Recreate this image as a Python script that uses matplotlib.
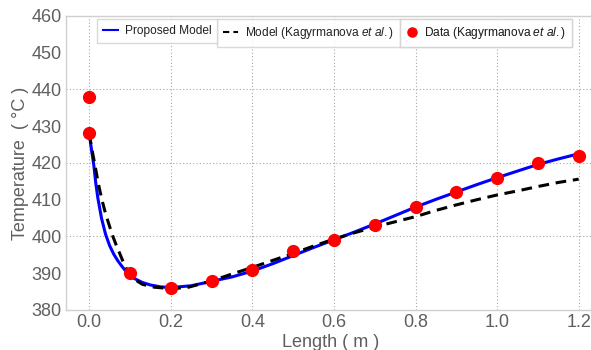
import matplotlib
matplotlib.use("Agg")
import matplotlib.pyplot as plt
from matplotlib.lines import Line2D

plt.rcParams["font.family"] = ["Liberation Sans", "DejaVu Sans"]
plt.rcParams["mathtext.fontset"] = "custom"
plt.rcParams["mathtext.it"] = "Liberation Sans:italic"
plt.rcParams["mathtext.rm"] = "Liberation Sans"

# ── data ────────────────────────────────────────────────────────────────────
prop_x = [0.0, 0.005, 0.011, 0.016, 0.021, 0.03, 0.04, 0.05, 0.06, 0.07, 0.08,
          0.093, 0.11, 0.13, 0.15, 0.175, 0.2, 0.25, 0.3, 0.35, 0.4, 0.45, 0.5,
          0.55, 0.6, 0.65, 0.7, 0.75, 0.8, 0.85, 0.9, 0.95, 1.0, 1.05, 1.1,
          1.15, 1.2]
prop_y = [428.0, 424.0, 419.5, 414.5, 410.5, 405.0, 400.6, 397.5, 395.2, 393.4,
          391.9, 390.1, 388.6, 387.5, 386.8, 386.3, 386.1, 386.6, 387.8, 389.0,
          390.6, 392.6, 394.8, 397.0, 399.1, 401.2, 403.4, 405.7, 408.0, 410.1,
          412.1, 414.1, 416.0, 417.8, 419.6, 421.1, 422.5]

kag_x = [0.0, 0.006, 0.013, 0.022, 0.031, 0.04, 0.05, 0.058, 0.067, 0.075,
         0.085, 0.097, 0.11, 0.13, 0.16, 0.2, 0.24, 0.3, 0.35, 0.4, 0.45, 0.5,
         0.55, 0.6, 0.65, 0.7, 0.75, 0.8, 0.85, 0.9, 0.95, 1.0, 1.05, 1.1,
         1.15, 1.2]
kag_y = [428.0, 424.0, 420.0, 414.5, 410.0, 406.2, 402.7, 400.0, 397.4, 395.3,
         392.6, 390.0, 388.4, 387.0, 386.2, 385.8, 386.1, 387.9, 389.8, 391.6,
         393.5, 395.4, 397.4, 399.3, 401.0, 402.6, 404.0, 405.4, 407.1, 408.6,
         410.0, 411.3, 412.4, 413.6, 414.7, 415.6]

data_x = [0.0, 0.0, 0.1, 0.2, 0.3, 0.4, 0.5, 0.6, 0.7, 0.8, 0.9, 1.0, 1.1, 1.2]
data_y = [438.0, 428.2, 390.0, 386.0, 388.0, 391.0, 396.0, 399.0, 403.0, 408.0,
          412.0, 416.0, 420.0, 422.0]

xticks = [0.0, 0.2, 0.4, 0.6, 0.8, 1.0, 1.2]
yticks = [380, 390, 400, 410, 420, 430, 440, 450, 460]

grey = "#5f5f5f"
frame = "#d0d0d0"

fig = plt.figure(figsize=(5.91, 3.50), dpi=100)
ax = fig.add_axes([0.1117, 0.1143, 0.895, 0.84])

ax.plot(prop_x, prop_y, color="#0000ff", lw=2.2, zorder=3)
ax.plot(kag_x, kag_y, color="black", lw=2.2, ls=(0, (3.5, 2.2)), zorder=3)
ax.plot(data_x, data_y, ls="none", marker="o", ms=8.5, color="#ff0000",
        mec="#ff0000", zorder=4, clip_on=False)

ax.set_xlim(-0.057, 1.24)
ax.set_ylim(380, 460)
ax.set_xticks(xticks)
ax.set_xticklabels([f"{t:.1f}" for t in xticks])
ax.set_yticks(yticks)

# grid: vertical at every x tick, horizontal every 20
for t in xticks:
    ax.axvline(t, color="#a8a8a8", lw=0.8, ls=(0, (1, 2)), zorder=1)
for t in [400, 420, 440]:
    ax.axhline(t, color="#a8a8a8", lw=0.8, ls=(0, (1, 2)), zorder=1)

for s in ["left", "bottom", "top"]:
    ax.spines[s].set_color(frame)
    ax.spines[s].set_linewidth(1.0)
ax.spines["right"].set_visible(False)

ax.tick_params(length=0, labelsize=13, labelcolor=grey, pad=3)
ax.set_xlabel("Length ( m )", fontsize=13, color=grey, labelpad=2)
ax.set_ylabel("Temperature  ( °C )", fontsize=13, color=grey, labelpad=2)

# three separate legend boxes along the top
handles = [
    (Line2D([], [], color="#0000ff", lw=1.5), "Proposed Model", 0.058, 1.3, 0.6),
    (Line2D([], [], color="black", lw=1.5, ls=(0, (3, 2))),
     r"Model (Kagyrmanova $\it{et\ al.}$)", 0.285, 1.3, 0.6),
    (Line2D([], [], ls="none", marker="o", ms=6.5, color="#ff0000"),
     r"Data (Kagyrmanova $\it{et\ al.}$)", 0.632, 1.0, 0.5),
]
for h, lab, x0, hl, hp in handles:
    leg = ax.legend([h], [lab], loc="upper left", bbox_to_anchor=(x0, 0.99),
                    fontsize=8.6, frameon=True, fancybox=False,
                    borderpad=0.5, handlelength=hl, handletextpad=hp,
                    borderaxespad=0.0)
    leg.get_frame().set_edgecolor(frame)
    leg.get_frame().set_linewidth(1.0)
    for txt in leg.get_texts():
        txt.set_color("#222222")
    ax.add_artist(leg)

fig.savefig("out.png", dpi=100)
